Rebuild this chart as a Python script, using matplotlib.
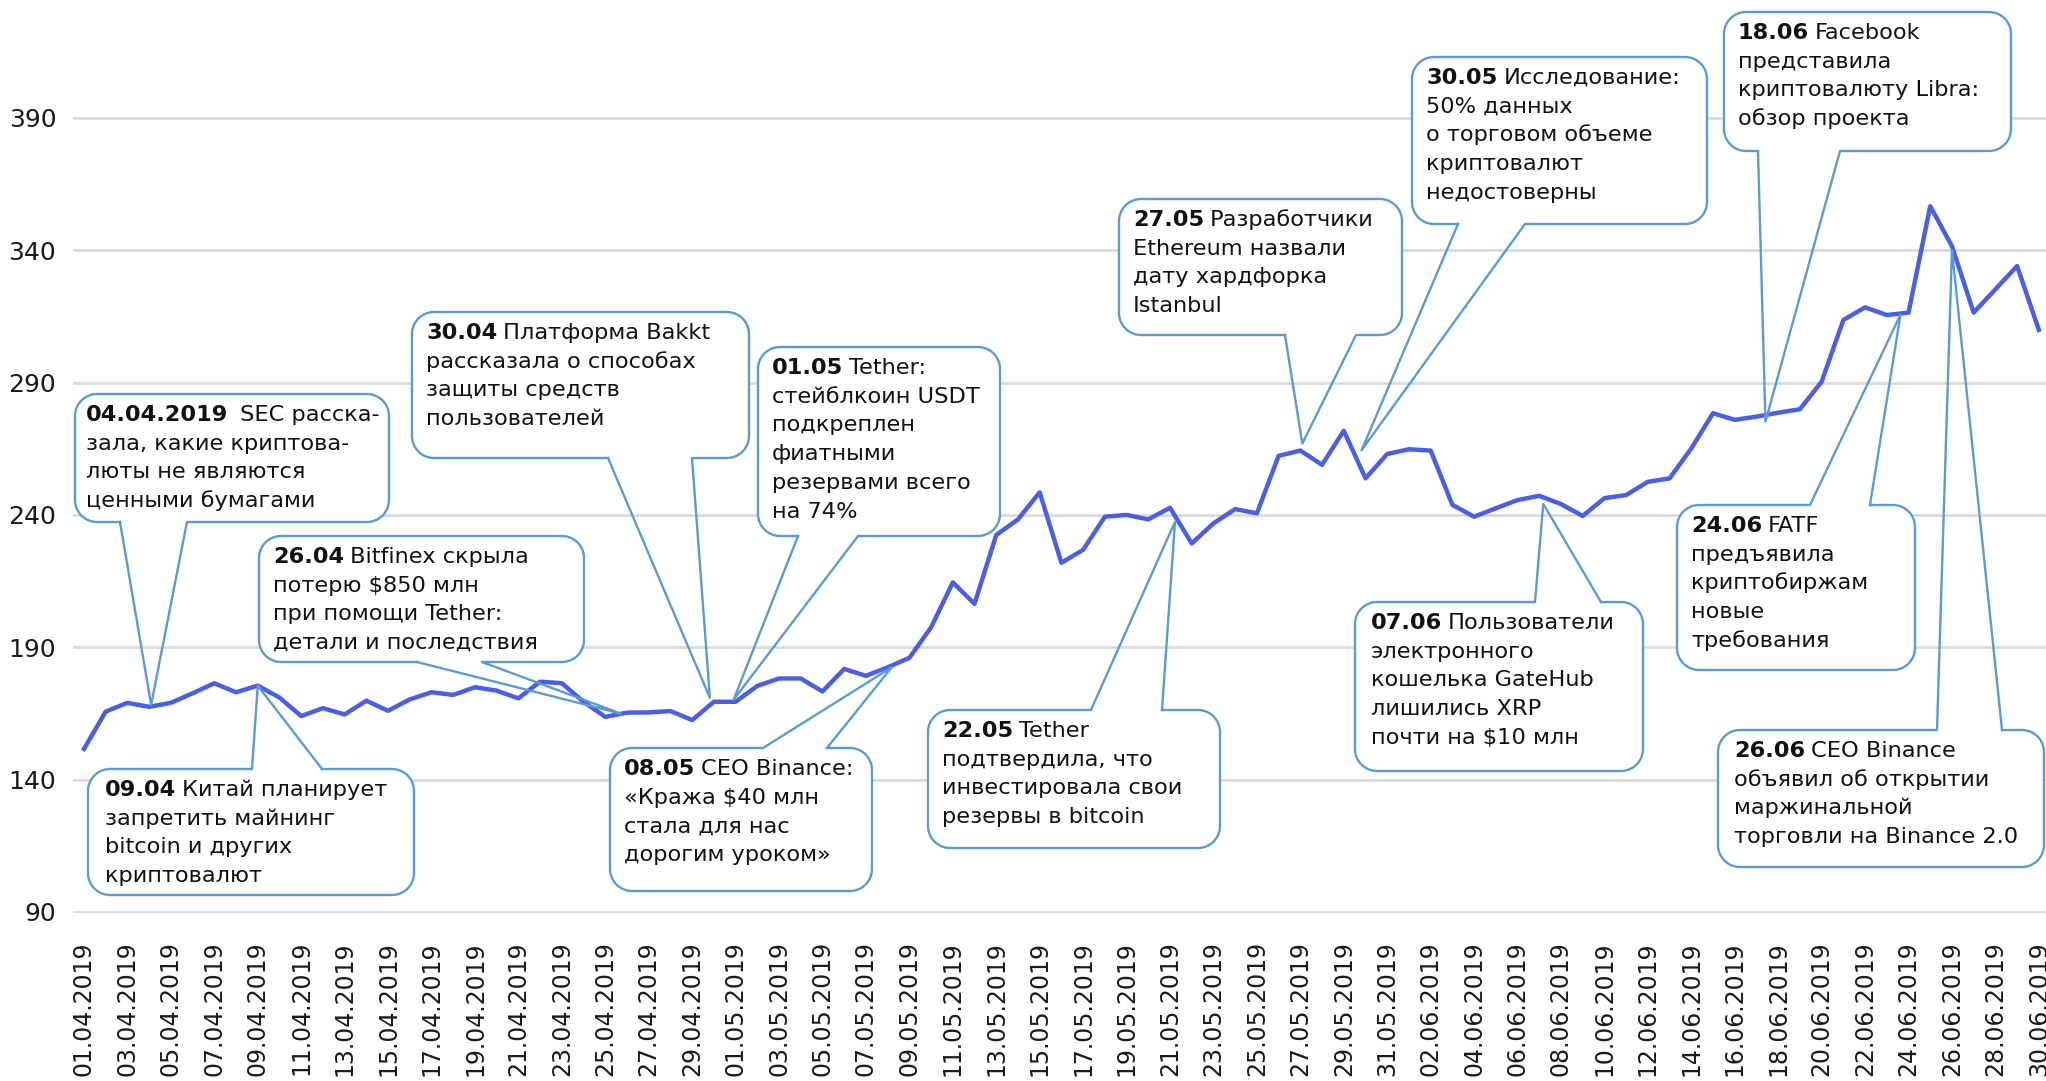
import numpy as np
import pandas as pd
import matplotlib
matplotlib.use('Agg')
import matplotlib.pyplot as plt
from matplotlib.patches import Polygon

# daily index values, 01.04.2019 - 30.06.2019
dates = pd.date_range('2019-04-01', '2019-06-30').strftime('%d.%m.%Y').tolist()
values = [151.6, 165.7, 169.0, 167.5, 169.0, 172.6, 176.4, 173.0, 175.5, 171.0,
          164.0, 167.0, 164.6, 169.8, 166.0, 170.3, 173.0, 172.0, 174.9, 173.6,
          170.7, 177.0, 176.4, 169.4, 163.7, 165.3, 165.4, 165.9, 162.5, 169.4,
          169.4, 175.4, 178.2, 178.2, 173.3, 181.8, 179.2, 182.4, 186.0, 197.5,
          214.5, 206.4, 232.4, 238.3, 248.5, 221.9, 226.8, 239.3, 240.0, 238.3,
          242.7, 229.2, 236.8, 242.2, 240.6, 262.3, 264.3, 258.9, 271.8, 253.8,
          263.0, 264.8, 264.3, 243.8, 239.3, 242.5, 245.6, 247.2, 244.1, 239.6,
          246.3, 247.5, 252.5, 253.8, 265.1, 278.4, 275.9, 277.1, 278.6, 279.9,
          290.3, 313.6, 318.4, 315.5, 316.4, 356.6, 341.5, 316.4, 325.2, 334.0,
          309.9]
y_ticks = [90, 140, 190, 240, 290, 340, 390]

# event texts: bold date, rest of first line, further lines
events = [
    ('04.04.2019', '  SEC расска-', ['зала, какие криптова-', 'люты не являются', 'ценными бумагами']),
    ('09.04', ' Китай планирует', ['запретить майнинг', 'bitcoin и других', 'криптовалют']),
    ('30.04', ' Платформа Bakkt', ['рассказала о способах', 'защиты средств', 'пользователей']),
    ('01.05', ' Tether:', ['стейблкоин USDT', 'подкреплен', 'фиатными', 'резервами всего', 'на 74%']),
    ('26.04', ' Bitfinex скрыла', ['потерю $850 млн', 'при помощи Tether:', 'детали и последствия']),
    ('08.05', ' CEO Binance:', ['«Кража $40 млн', 'стала для нас', 'дорогим уроком»']),
    ('22.05', ' Tether', ['подтвердила, что', 'инвестировала свои', 'резервы в bitcoin']),
    ('27.05', ' Разработчики', ['Ethereum назвали', 'дату хардфорка', 'Istanbul']),
    ('30.05', ' Исследование:', ['50% данных', 'о торговом объеме', 'криптовалют', 'недостоверны']),
    ('18.06', ' Facebook', ['представила', 'криптовалюту Libra:', 'обзор проекта']),
    ('24.06', ' FATF', ['предъявила', 'криптобиржам', 'новые', 'требования']),
    ('26.06', ' CEO Binance', ['объявил об открытии', 'маржинальной', 'торговли на Binance 2.0']),
    ('07.06', ' Пользователи', ['электронного', 'кошелька GateHub', 'лишились XRP', 'почти на $10 млн']),
]

# layout (pixels): box x0, y0, x1, y1, pointer side, pointer base x1, x2,
# point index, tip offset dx, dy, text padding
layout = [
    (75, 394, 389, 522, 'bottom', 120, 187, 3, 2, -2, 11),
    (88, 769, 414, 895, 'top', 252, 322, 8, 0, 0, 17),
    (412, 312, 749, 458, 'bottom', 608, 692, 29, -4, -4, 14),
    (758, 347, 1000, 536, 'bottom', 798, 858, 30, -2, -2, 14),
    (259, 536, 584, 662, 'bottom', 417, 482, 25, -6, 1, 14),
    (610, 748, 872, 891, 'top', 763, 827, 37, 4, 0, 14),
    (928, 710, 1220, 848, 'top', 1091, 1162, 50, 5, 14, 14),
    (1119, 199, 1402, 335, 'bottom', 1285, 1356, 56, 2, -7, 14),
    (1412, 57, 1707, 224, 'bottom', 1458, 1525, 59, -4, -28, 14),
    (1724, 12, 2011, 151, 'bottom', 1758, 1840, 77, 9, 5, 14),
    (1677, 505, 1915, 670, 'top', 1810, 1870, 84, -8, 2, 14),
    (1718, 730, 2044, 867, 'top', 1937, 2002, 86, 0, 4, 16),
    (1355, 602, 1643, 771, 'top', 1535, 1601, 67, 4, 8, 16),
]

W, H = 2046, 1081
line_color = '#4a5ee6'
edge_color = '#5b9bd5'
font = 'DejaVu Sans'
fs = 16.2
line_step = 28.7

fig = plt.figure(figsize=(W / 100, H / 100), dpi=100)
ax_bottom = 913.3
ax = fig.add_axes([73 / W, (H - ax_bottom) / H, (W - 73) / W, ax_bottom / H])
ax.plot(range(len(values)), values, color=line_color, lw=3.2,
        solid_joinstyle='round', zorder=3)
ax.set_xlim(-0.506, 90.33)
ax.set_ylim(89.5, 434.5)
ax.set_yticks(y_ticks)
ax.set_yticklabels([str(v) for v in y_ticks], fontsize=18, color='#1a1a1a', family=font)
ax.set_xticks(range(0, len(dates), 2))
ax.set_xticklabels(dates[::2], rotation=90, fontsize=17, color='#1a1a1a', family=font)
ax.tick_params(axis='both', length=0)
ax.tick_params(axis='y', pad=12)
ax.tick_params(axis='x', pad=20)
ax.grid(axis='y', color='#dadada', lw=2)
ax.set_axisbelow(True)
for s in ax.spines.values():
    s.set_visible(False)

# overlay in pixel coordinates for the callouts
ax2 = fig.add_axes([0, 0, 1, 1])
ax2.set_xlim(0, W)
ax2.set_ylim(H, 0)
ax2.axis('off')


def arc(cx, cy, r, a0, a1, n=14):
    t = np.radians(np.linspace(a0, a1, n))
    return list(zip(cx + r * np.cos(t), cy + r * np.sin(t)))


def callout(x0, y0, x1, y1, side, b1, b2, tip, r=22):
    tr = arc(x1 - r, y0 + r, r, -90, 0)
    br = arc(x1 - r, y1 - r, r, 0, 90)
    bl = arc(x0 + r, y1 - r, r, 90, 180)
    tl = arc(x0 + r, y0 + r, r, 180, 270)
    ax2.add_patch(Polygon(tr + br + bl + tl, closed=True, fc='white', ec='none', zorder=3))
    if side == 'top':
        pts = [(b2, y0)] + tr + br + bl + tl + [(b1, y0), tip, (b2, y0)]
    else:
        pts = [(b1, y1)] + bl + tl + tr + br + [(b2, y1), tip, (b1, y1)]
    xs, ys = zip(*pts)
    ax2.plot(xs, ys, color=edge_color, lw=1.7, solid_joinstyle='round', zorder=4)


renderer = fig.canvas.get_renderer()
for (bold, rest, lines), (x0, y0, x1, y1, side, b1, b2, idx, dx, dy, padx) in zip(events, layout):
    px, py = ax.transData.transform((idx, values[idx]))
    callout(x0, y0, x1, y1, side, b1, b2, (px + dx, H - py + dy))
    tx, ty = x0 + padx, y0 + 27
    t = ax2.text(tx, ty, bold, fontsize=fs, fontweight='bold', family=font,
                 va='baseline', ha='left', zorder=5, color='#111111')
    w = t.get_window_extent(renderer).width
    n_sp = len(rest) - len(rest.lstrip())
    ax2.text(tx + w + 6 * n_sp, ty, rest.strip(), fontsize=fs, family=font, va='baseline',
             ha='left', zorder=5, color='#111111', parse_math=False)
    for k, s in enumerate(lines):
        ax2.text(tx, ty + line_step * (k + 1), s, fontsize=fs, family=font, va='baseline',
                 ha='left', zorder=5, color='#111111', parse_math=False)

fig.savefig('out.png', dpi=100)
